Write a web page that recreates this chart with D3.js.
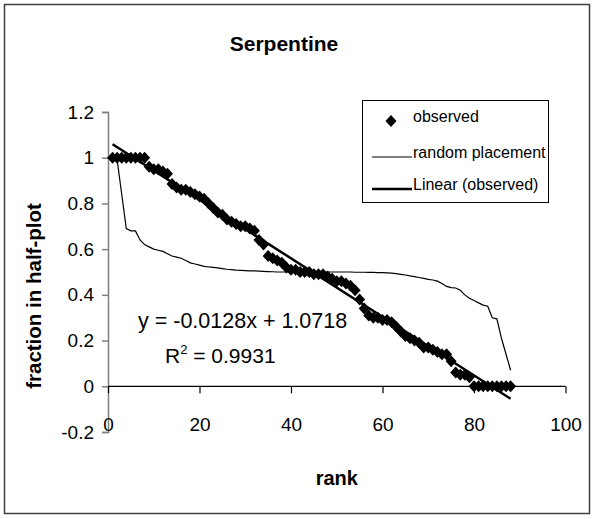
<!DOCTYPE html>
<html>
<head>
<meta charset="utf-8">
<script src="https://cdn.jsdelivr.net/npm/d3@7"></script>
<style>
  html, body { margin: 0; padding: 0; background: #fff; }
  svg { display: block; font-family: Arial, "Liberation Sans", sans-serif; }
</style>
</head>
<body>
<div id="chart"></div>
<script>
// Fraction of trees in the half-plot, ordered by rank
const observed = [
  1, 1, 1, 1, 1, 1, 1, 1,
  0.96, 0.95, 0.95, 0.94, 0.93,
  0.885, 0.87, 0.86, 0.86, 0.85, 0.84, 0.83, 0.82, 0.80,
  0.78, 0.76, 0.75, 0.73, 0.72, 0.71, 0.70, 0.70, 0.69, 0.68,
  0.64, 0.62, 0.57, 0.56, 0.55, 0.54, 0.52, 0.51,
  0.51, 0.50, 0.50, 0.50, 0.49, 0.49, 0.49, 0.48, 0.47, 0.46,
  0.46, 0.45, 0.44, 0.42, 0.38, 0.34,
  0.31, 0.30, 0.30, 0.29, 0.29, 0.28,
  0.26, 0.24, 0.22, 0.21, 0.20, 0.19, 0.17, 0.17, 0.16, 0.15,
  0.14, 0.14, 0.11, 0.06, 0.05, 0.05, 0.04,
  0, 0, 0, 0, 0, 0, 0, 0, 0
];
const randomPlacement = [
  1.0, 0.99, 0.84, 0.69, 0.68, 0.68, 0.64, 0.62, 0.61, 0.60,
  0.595, 0.59, 0.58, 0.57, 0.565, 0.56, 0.55, 0.54, 0.535, 0.53,
  0.525, 0.522, 0.52, 0.518, 0.515, 0.512, 0.51, 0.508, 0.507, 0.506,
  0.505, 0.505, 0.504, 0.503, 0.502, 0.501, 0.5, 0.5, 0.5, 0.5,
  0.5, 0.5, 0.5, 0.5, 0.5, 0.5, 0.5, 0.5, 0.5, 0.5,
  0.5, 0.5, 0.5, 0.499, 0.499, 0.499, 0.498, 0.498, 0.497, 0.497,
  0.496, 0.495, 0.493, 0.49, 0.487, 0.483, 0.48, 0.476, 0.472, 0.468,
  0.465, 0.46, 0.45, 0.437, 0.432, 0.43, 0.42, 0.40, 0.385, 0.375,
  0.365, 0.355, 0.35, 0.30, 0.295, 0.21, 0.14, 0.07
];
// Least-squares fit of the observed series
const trendSlope = -0.0128;
const trendIntercept = 1.0718;
const trendRSquared = 0.9931;

const xTicks = [0, 20, 40, 60, 80, 100];
const yTicks = [-0.2, 0, 0.2, 0.4, 0.6, 0.8, 1, 1.2];
const legendLabels = ["observed", "random placement", "Linear (observed)"];

const W = 594, H = 519;
const svg = d3.select("#chart").append("svg").attr("width", W).attr("height", H);

// outer frame
svg.append("rect").attr("x", 4.5).attr("y", 4.5).attr("width", 585).attr("height", 509)
  .attr("fill", "#fff").attr("stroke", "#404040").attr("stroke-width", 1.5);

const x = d3.scaleLinear().domain([0, 100]).range([108, 565.5]);
const y = d3.scaleLinear().domain([-0.2, 1.2]).range([432, 112]);

// title
svg.append("text").attr("x", 284).attr("y", 51).attr("text-anchor", "middle")
  .attr("font-size", 21).attr("font-weight", "bold").text("Serpentine");

// y axis (grey), ticks to the left; plain hyphen for negatives
const yAxis = d3.axisLeft(y).tickValues(yTicks).tickSize(6).tickFormat(d => String(+d.toFixed(1)));
const gy = svg.append("g").attr("transform", `translate(${x(0)},0)`).call(yAxis);
gy.select(".domain").attr("stroke", "#808080").attr("stroke-width", 1.5);
gy.selectAll(".tick line").attr("stroke", "#808080").attr("stroke-width", 1.5);
gy.selectAll(".tick text").attr("font-size", 19).attr("fill", "#000").attr("x", -14)
  .attr("font-family", "Arial, 'Liberation Sans', sans-serif");

// x axis at y = 0, labels at the bottom of the plot
const xAxis = d3.axisBottom(x).tickValues(xTicks).tickSize(7).tickFormat(d => String(d));
const gx = svg.append("g").attr("transform", `translate(0,${y(0)})`).call(xAxis);
gx.select(".domain").attr("stroke", "#000").attr("stroke-width", 1.2).attr("d", `M${x(0)},0H${x(100)}`);
gx.selectAll(".tick line").attr("stroke", "#000").attr("stroke-width", 1.2);
gx.selectAll(".tick text").attr("font-size", 19).attr("fill", "#000")
  .attr("y", y(-0.2) - y(0) - 14).attr("font-family", "Arial, 'Liberation Sans', sans-serif");

// axis titles
svg.append("text").attr("x", x(50)).attr("y", 485).attr("text-anchor", "middle")
  .attr("font-size", 20).attr("font-weight", "bold").text("rank");
svg.append("text").attr("transform", "translate(41,296) rotate(-90)").attr("text-anchor", "middle")
  .attr("font-size", 20.5).attr("font-weight", "bold").text("fraction in half-plot");

// random placement line
const line = d3.line().x((d, i) => x(i + 1)).y(d => y(d));
svg.append("path").datum(randomPlacement).attr("d", line)
  .attr("fill", "none").attr("stroke", "#000").attr("stroke-width", 1.2);

// observed diamonds
const diamond = "M0,-6L5.5,0L0,6L-5.5,0Z";
svg.append("g").selectAll("path").data(observed).join("path")
  .attr("d", diamond)
  .attr("transform", (d, i) => `translate(${x(i + 1)},${y(d)})`)
  .attr("fill", "#000");

// linear trend
const trendX = [1, observed.length];
svg.append("line")
  .attr("x1", x(trendX[0])).attr("y1", y(trendIntercept + trendSlope * trendX[0]))
  .attr("x2", x(trendX[1])).attr("y2", y(trendIntercept + trendSlope * trendX[1]))
  .attr("stroke", "#000").attr("stroke-width", 2.5);

// equation and R²
svg.append("text").attr("x", 138).attr("y", 328).attr("font-size", 21.5)
  .text(`y = ${trendSlope}x + ${trendIntercept}`);
const r2 = svg.append("text").attr("x", 165).attr("y", 363).attr("font-size", 21);
r2.append("tspan").text("R");
r2.append("tspan").attr("font-size", 13).attr("dy", -9).text("2");
r2.append("tspan").attr("dy", 9).text(` = ${trendRSquared}`);

// legend
const lg = svg.append("g");
lg.append("rect").attr("x", 362.5).attr("y", 100.5).attr("width", 186).attr("height", 102)
  .attr("fill", "#fff").attr("stroke", "#000").attr("stroke-width", 1);
const rowY = [121, 157, 189];
lg.append("path").attr("d", diamond).attr("transform", `translate(391,${rowY[0]})`).attr("fill", "#000");
lg.append("line").attr("x1", 372).attr("x2", 412).attr("y1", rowY[1]).attr("y2", rowY[1])
  .attr("stroke", "#000").attr("stroke-width", 1.2);
lg.append("line").attr("x1", 372).attr("x2", 412).attr("y1", rowY[2]).attr("y2", rowY[2])
  .attr("stroke", "#000").attr("stroke-width", 2.5);
lg.selectAll("text.lab").data(legendLabels).join("text").attr("class", "lab")
  .attr("x", 413).attr("y", (d, i) => rowY[i] + 1).attr("font-size", 16).text(d => d);
</script>
</body>
</html>
